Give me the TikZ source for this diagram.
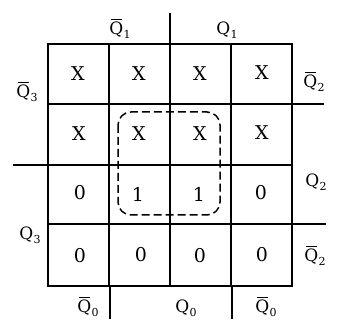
\documentclass[tikz,border=0pt]{standalone}
\usepackage{fontspec}
\setmainfont{DejaVu Serif}
\newcommand{\qlab}[2]{\fontsize{17}{18}\selectfont #1Q\kern0.3pt\raisebox{-3.5pt}{\fontsize{11}{12}\selectfont #2}}
\newcommand{\qbar}[1]{\fontsize{17}{18}\selectfont\rlap{\kern1.5pt\rule[15pt]{11pt}{1.3pt}}Q\kern0.3pt\raisebox{-3.5pt}{\fontsize{11}{12}\selectfont #1}}
\begin{document}
\begin{tikzpicture}[x=1pt,y=-1pt,
  gridline/.style={line width=1.6pt,line cap=rect},
  cell/.style={font=\fontsize{19}{20}\selectfont,inner sep=0pt,anchor=center},
  lab/.style={inner sep=0pt,anchor=base},
  loop/.style={line width=1.5pt,dash pattern=on 8pt off 4pt,rounded corners=13pt}]
\useasboundingbox (0,0) rectangle (338,328);
% grid
\draw[gridline] (48,44) rectangle (292,286);
\foreach \x in {109,170,231} \draw[gridline] (\x,44) -- (\x,286);
\foreach \y in {104,165,224} \draw[gridline] (48,\y) -- (292,\y);
% extensions
\draw[gridline] (170,14) -- (170,44);
\draw[gridline] (292,104) -- (323,104);
\draw[gridline] (14,165) -- (48,165);
\draw[gridline] (292,224) -- (325,224);
\draw[gridline] (110,286) -- (110,318);
\draw[gridline] (232,286) -- (232,318);
% cells
\node[cell] (a1) at (78,74) {X};
\node[cell] (a2) at (139,74) {X};
\node[cell] (a3) at (200,74) {X};
\node[cell] (a4) at (262,73) {X};
\node[cell] (b1) at (79,134) {X};
\node[cell] (b2) at (139,134) {X};
\node[cell] (b3) at (200,134) {X};
\node[cell] (b4) at (262,133) {X};
\node[cell] (c1) at (80,193) {0};
\node[cell] (c2) at (138,194) {1};
\node[cell] (c3) at (199,194) {1};
\node[cell] (c4) at (261,193) {0};
\node[cell] (d1) at (80,256) {0};
\node[cell] (d2) at (141,255) {0};
\node[cell] (d3) at (200,256) {0};
\node[cell] (d4) at (262,255) {0};
% loop
\draw[loop] (118,112) rectangle (220,215);
% labels
\node[lab] (q1b) at (120,35) {\qbar{1}};
\node[lab] (q1) at (227,35) {\qlab{}{1}};
\node[lab] (q3b) at (27,98) {\qbar{3}};
\node[lab] (q3) at (30,240) {\qlab{}{3}};
\node[lab] (q2b) at (314,88) {\qbar{2}};
\node[lab] (q2) at (316,187) {\qlab{}{2}};
\node[lab] (q2c) at (315,262) {\qbar{2}};
\node[lab] (q0b) at (88,313) {\qbar{0}};
\node[lab] (q0) at (186,313) {\qlab{}{0}};
\node[lab] (q0c) at (266,313) {\qbar{0}};
\end{tikzpicture}
\end{document}
